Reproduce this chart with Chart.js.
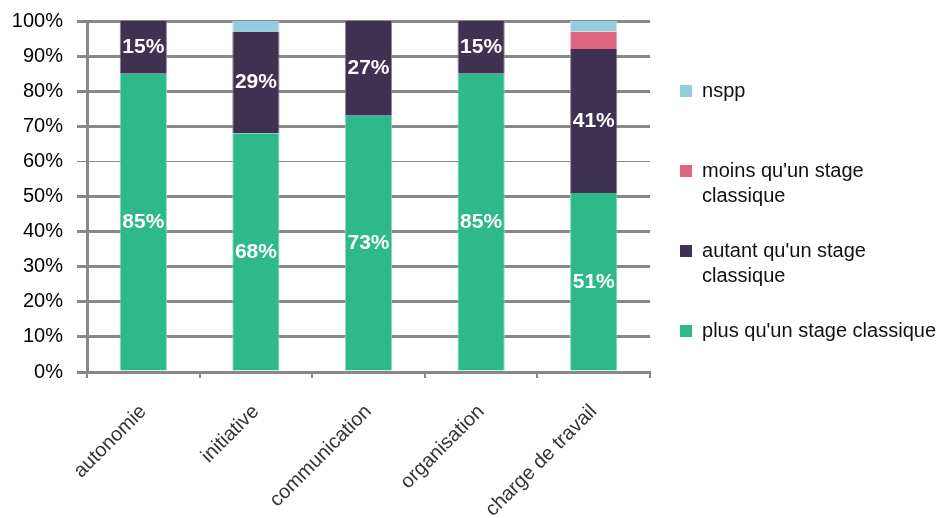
<!DOCTYPE html>
<html>
<head>
<meta charset="utf-8">
<script src="https://cdn.jsdelivr.net/npm/chart.js@4"></script>
<style>
  html, body { margin: 0; padding: 0; background: #fff; }
  #wrap { width: 951px; height: 518px; }
</style>
</head>
<body>
<div id="wrap"><canvas id="chart" width="951" height="518"></canvas></div>
<script>
const categories = ["autonomie", "initiative", "communication", "organisation", "charge de travail"];
const plusValues = [85, 68, 73, 85, 51];
const autantValues = [15, 29, 27, 15, 41];
const moinsValues = [0, 0, 0, 0, 5];
const nsppValues = [0, 3, 0, 0, 3];
const yTicks = [0, 10, 20, 30, 40, 50, 60, 70, 80, 90, 100];
const seriesNames = ["plus qu'un stage classique", "autant qu'un stage classique", "moins qu'un stage classique", "nspp"];
// legend text split into lines, same order as seriesNames
const legendLines = [
  "plus qu'un stage classique",
  ["autant qu'un stage", "classique"],
  ["moins qu'un stage", "classique"],
  ["nspp", " "],
];

const FONT = "'Liberation Sans', Arial, sans-serif";
const GRID = "#888888";

// white % labels in the middle of the two main segments
const segmentLabels = {
  id: "segmentLabels",
  afterDatasetsDraw(chart) {
    const ctx = chart.ctx;
    ctx.save();
    ctx.font = "bold 21px " + FONT;
    ctx.fillStyle = "#ffffff";
    ctx.textAlign = "center";
    ctx.textBaseline = "middle";
    [0, 1].forEach((di) => {
      const meta = chart.getDatasetMeta(di);
      meta.data.forEach((bar, i) => {
        const v = chart.data.datasets[di].data[i];
        if (!v) return;
        const p = bar.getProps(["x", "y", "base"], true);
        ctx.fillText(v + "%", p.x, (p.y + p.base) / 2);
      });
    });
    ctx.restore();
  },
};

const mk = (label, data, bg, edge) => ({
  label,
  data,
  backgroundColor: bg,
  borderColor: edge,
  borderWidth: { left: 1, right: 1, top: 0, bottom: 0 },
  borderSkipped: false,
  categoryPercentage: 1,
  barPercentage: 0.42,
});

new Chart(document.getElementById("chart"), {
  type: "bar",
  data: {
    labels: categories,
    datasets: [
      mk(seriesNames[0], plusValues, "#2DB98A", "#8FD8BE"),
      mk(seriesNames[1], autantValues, "#3F3152", "#8E8599"),
      mk(seriesNames[2], moinsValues, "#DF6580", "#EFA9B8"),
      mk(seriesNames[3], nsppValues, "#92CDDF", "#C4E4EE"),
    ],
  },
  options: {
    responsive: false,
    animation: false,
    layout: { padding: { left: 0, top: 21, right: 5, bottom: 0 } },
    plugins: {
      tooltip: { enabled: false },
      legend: {
        position: "right",
        align: "start",
        reverse: true,
        maxWidth: 299,
        title: { display: true, text: " ", padding: 3, font: { size: 20, family: FONT } },
        labels: {
          boxWidth: 12,
          boxHeight: 12,
          padding: 30,
          color: "#111111",
          font: { size: 20, family: FONT, lineHeight: 1.25 },
          generateLabels(chart) {
            const items = Chart.defaults.plugins.legend.labels.generateLabels(chart);
            return items.map((it) => ({ ...it, text: legendLines[it.datasetIndex], lineWidth: 0 }));
          },
        },
      },
    },
    scales: {
      x: {
        stacked: true,
        afterFit(scale) { scale.height = 146; },
        border: { display: true, color: GRID, width: 3 },
        grid: { drawOnChartArea: false, drawTicks: true, tickLength: 6, color: GRID, lineWidth: 2, offset: true },
        ticks: {
          autoSkip: false,
          minRotation: 45,
          maxRotation: 45,
          padding: 22,
          color: "#333333",
          font: { size: 20, family: FONT },
        },
      },
      y: {
        stacked: true,
        min: 0,
        max: 100,
        afterFit(scale) {
          scale.width = 87;
          scale.paddingTop = 0;
          scale.paddingBottom = 0;
        },
        afterBuildTicks(scale) { scale.ticks = yTicks.map((v) => ({ value: v })); },
        border: { display: true, color: GRID, width: 3 },
        grid: {
          color: GRID,
          lineWidth: (c) => (c.tick && c.tick.value === 60 ? 1 : 3),
          tickLength: 10,
        },
        ticks: {
          padding: 14,
          color: "#000000",
          font: { size: 20, family: FONT },
          callback: (v) => v + "%",
        },
      },
    },
  },
  plugins: [segmentLabels],
});
</script>
</body>
</html>
